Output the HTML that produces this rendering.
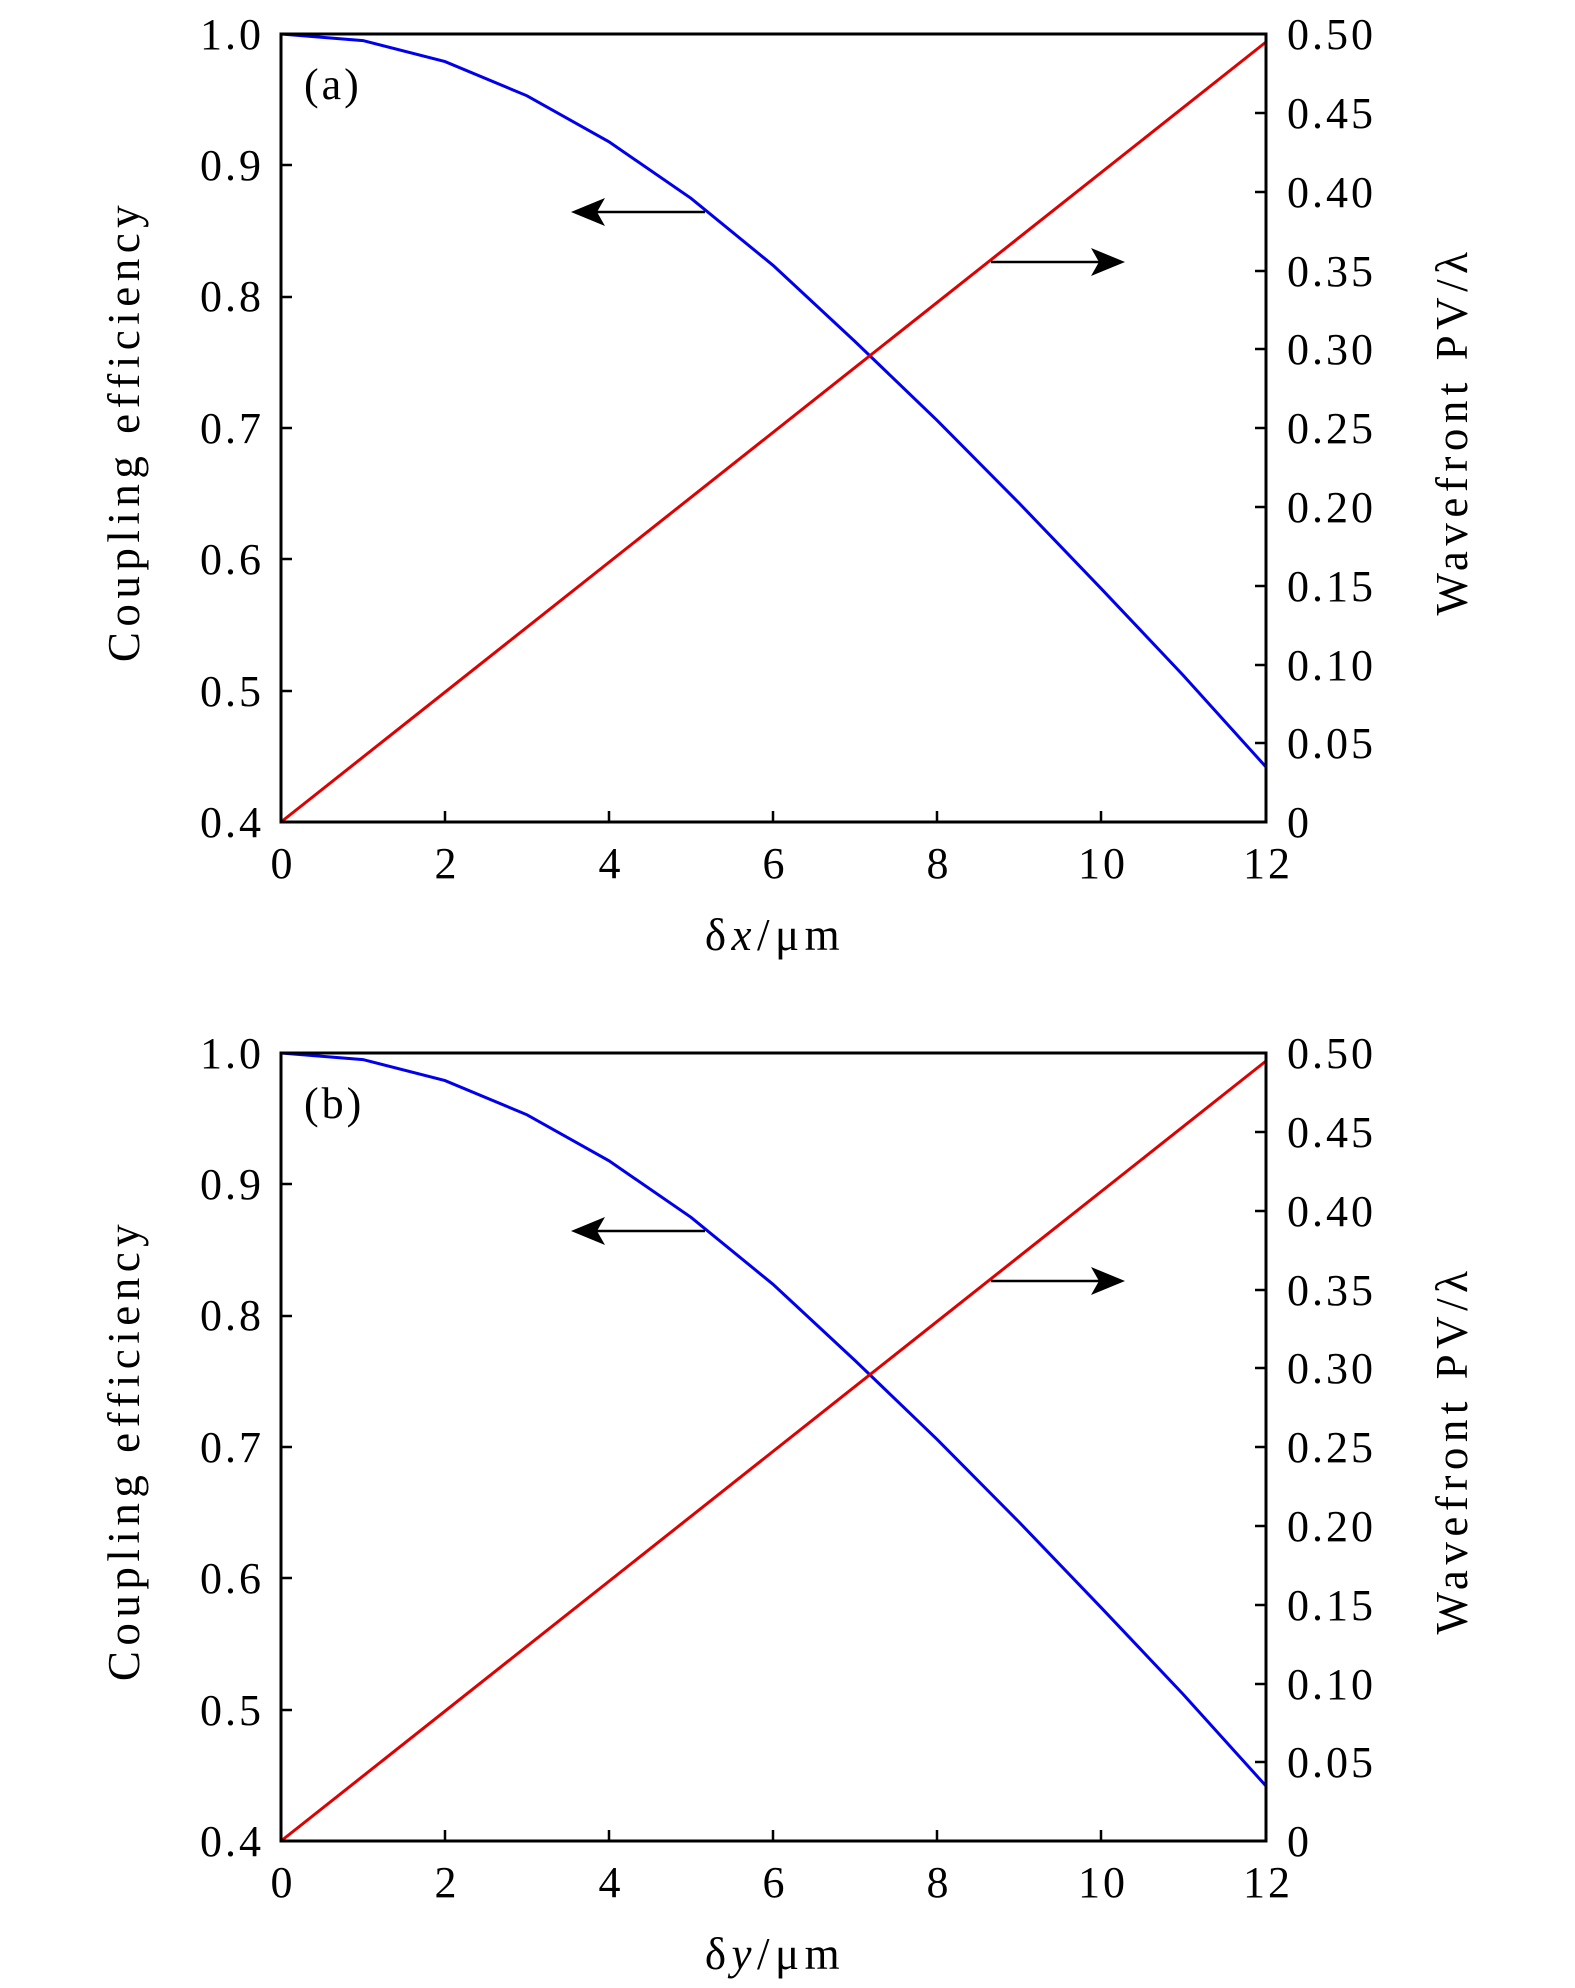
<!DOCTYPE html>
<html><head><style>body{margin:0;background:#fff}svg{display:block}text{font-family:"Liberation Serif",serif;font-size:44px;fill:#000;letter-spacing:3px}.ax{letter-spacing:5.5px;font-size:45px}</style></head>
<body>
<svg width="1575" height="1988" viewBox="0 0 1575 1988" xmlns="http://www.w3.org/2000/svg">
<defs>
<g id="plot">
<polyline fill="none" stroke="#0000ee" stroke-width="3" points="281,34 363,40.6 445,61.6 527,95.8 609,141.8 691,198.3 773,265.3 855,341.5 937,420.3 1019,503 1101,588.4 1183,675.1 1266,767"/>
<line x1="281" y1="822" x2="1266" y2="42" stroke="#e00000" stroke-width="3"/>
<rect x="281" y="34" width="985" height="788" fill="none" stroke="#000" stroke-width="3"/>
<path stroke="#000" stroke-width="2.5" d="M281,691h11M281,559h11M281,428h11M281,297h11M281,165h11M1266,743h-11M1266,665h-11M1266,586h-11M1266,507h-11M1266,428h-11M1266,349h-11M1266,271h-11M1266,192h-11M1266,113h-11M445,822v-11M609,822v-11M773,822v-11M937,822v-11M1101,822v-11"/>
<line x1="705" y1="212" x2="595" y2="212" stroke="#000" stroke-width="2.5"/>
<path d="M571,212 L605,198 L597,212 L605,226Z" fill="#000"/>
<line x1="991" y1="262" x2="1100" y2="262" stroke="#000" stroke-width="2.5"/>
<path d="M1125,262 L1091,248 L1099,262 L1091,276Z" fill="#000"/>
<g text-anchor="end">
<text x="264" y="49">1.0</text><text x="264" y="180">0.9</text><text x="264" y="311">0.8</text><text x="264" y="443">0.7</text><text x="264" y="574">0.6</text><text x="264" y="706">0.5</text><text x="264" y="837">0.4</text>
</g>
<g text-anchor="start">
<text x="1287" y="49">0.50</text><text x="1287" y="128">0.45</text><text x="1287" y="207">0.40</text><text x="1287" y="286">0.35</text><text x="1287" y="364">0.30</text><text x="1287" y="443">0.25</text><text x="1287" y="522">0.20</text><text x="1287" y="601">0.15</text><text x="1287" y="680">0.10</text><text x="1287" y="758">0.05</text><text x="1287" y="837">0</text>
</g>
<g text-anchor="middle">
<text x="283" y="878">0</text><text x="447" y="878">2</text><text x="611" y="878">4</text><text x="775" y="878">6</text><text x="939" y="878">8</text><text x="1103" y="878">10</text><text x="1268" y="878">12</text>
<text class="ax" transform="translate(139,431) rotate(-90)">Coupling efficiency</text>
<text class="ax" transform="translate(1467,431) rotate(-90)">Wavefront PV/λ</text>
</g>
</g>
</defs>
<use href="#plot"/>
<text x="304" y="99">(a)</text>
<text class="ax" x="775" y="950" text-anchor="middle">δ<tspan font-style="italic">x</tspan>/μm</text>
<use href="#plot" transform="translate(0,1019)"/>
<text x="304" y="1118">(b)</text>
<text class="ax" x="775" y="1969" text-anchor="middle">δ<tspan font-style="italic">y</tspan>/μm</text>
</svg>
</body></html>
